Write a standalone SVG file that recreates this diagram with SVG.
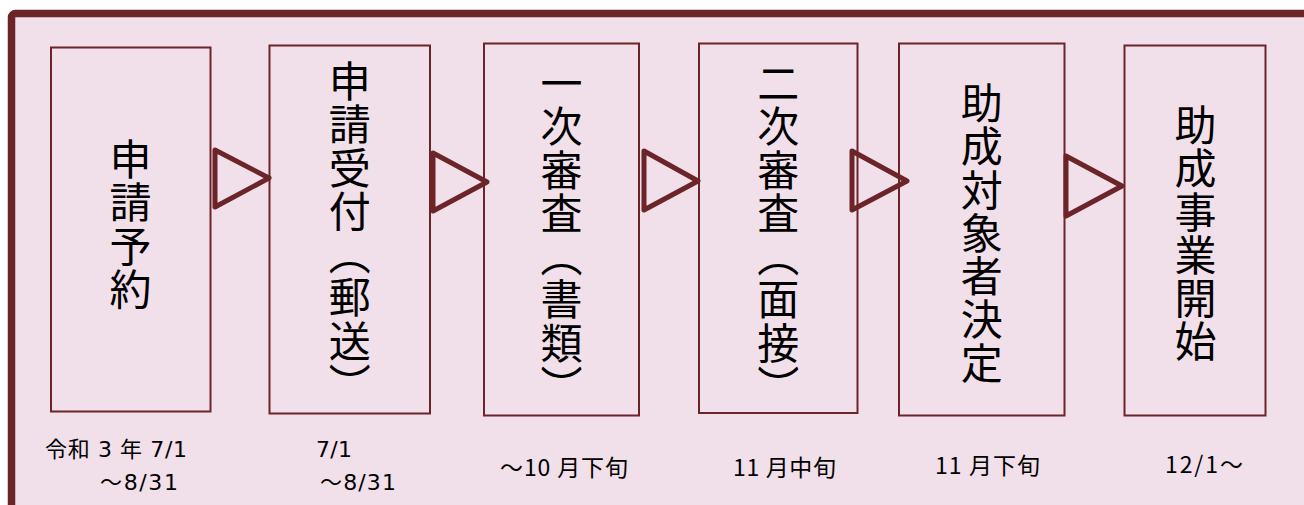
<svg xmlns="http://www.w3.org/2000/svg" width="1304" height="505" viewBox="0 0 1304 505">
  <style>
    .frame { fill: #f1dfe9; stroke: #6b2427; stroke-width: 7.5; }
    .box { fill: #f1dfe9; stroke: #6b2427; stroke-width: 2; }
    .vt { font-family: "Noto Sans CJK JP", sans-serif; font-size: 42px; fill: #000; writing-mode: vertical-rl; text-orientation: upright; letter-spacing: 1.3px; }
    .lbl { font-family: "DejaVu Sans", "Noto Sans CJK JP", sans-serif; font-size: 22px; fill: #000; }
    .lbl2 { font-family: "Noto Sans CJK JP", sans-serif; font-size: 23px; fill: #000; }
    .arr { fill: none; stroke: #6b2427; stroke-width: 5; stroke-linejoin: round; }
  </style>
  <rect class="frame" x="11.5" y="13.5" width="1310" height="510" rx="4"/>

  <g id="node-yoyaku">
    <rect class="box" x="51" y="47.5" width="159.5" height="364"/>
    <text class="vt" x="130.5" y="138">申請予約</text>
  </g>
  <g id="node-uketsuke">
    <rect class="box" x="269.5" y="45.5" width="160.5" height="368"/>
    <text class="vt" x="349.7" y="60">申請受付（郵送）</text>
  </g>
  <g id="node-ichiji">
    <rect class="box" x="484" y="43.5" width="155" height="372"/>
    <text class="vt" x="561.5" y="62">一次審査（書類）</text>
  </g>
  <g id="node-niji">
    <rect class="box" x="699" y="43.5" width="158.5" height="369.5"/>
    <text class="vt" x="778.3" y="62">二次審査（面接）</text>
  </g>
  <g id="node-kettei">
    <rect class="box" x="899" y="43.5" width="165.5" height="372"/>
    <text class="vt" x="981.7" y="82">助成対象者決定</text>
  </g>
  <g id="node-kaishi">
    <rect class="box" x="1124.5" y="45.5" width="141" height="370"/>
    <text class="vt" x="1195.5" y="104">助成事業開始</text>
  </g>

  <g id="connectors">
    <path class="arr" d="M215,150 L269,178 L215,207 Z"/>
    <path class="arr" d="M433,153 L487,182 L433,211 Z"/>
    <path class="arr" d="M644,151 L698,181 L644,210 Z"/>
    <path class="arr" d="M852,151 L907,181 L852,210 Z"/>
    <path class="arr" d="M1066,156 L1122,186 L1066,216 Z"/>
  </g>

  <g id="labels">
    <text class="lbl" x="45" y="457" textLength="142" lengthAdjust="spacing">令和 3 年 7/1</text>
    <text class="lbl" x="100" y="490" textLength="78" lengthAdjust="spacing">～8/31</text>
    <text class="lbl" x="316" y="457" textLength="36" lengthAdjust="spacing">7/1</text>
    <text class="lbl" x="320" y="490" textLength="76" lengthAdjust="spacing">～8/31</text>
    <text class="lbl2" x="500" y="476" textLength="128" lengthAdjust="spacing">～10 月下旬</text>
    <text class="lbl2" x="733" y="476" textLength="103" lengthAdjust="spacing">11 月中旬</text>
    <text class="lbl2" x="935" y="474" textLength="105" lengthAdjust="spacing">11 月下旬</text>
    <text class="lbl2" x="1165" y="473" textLength="78" lengthAdjust="spacing">12/1～</text>
  </g>
</svg>
